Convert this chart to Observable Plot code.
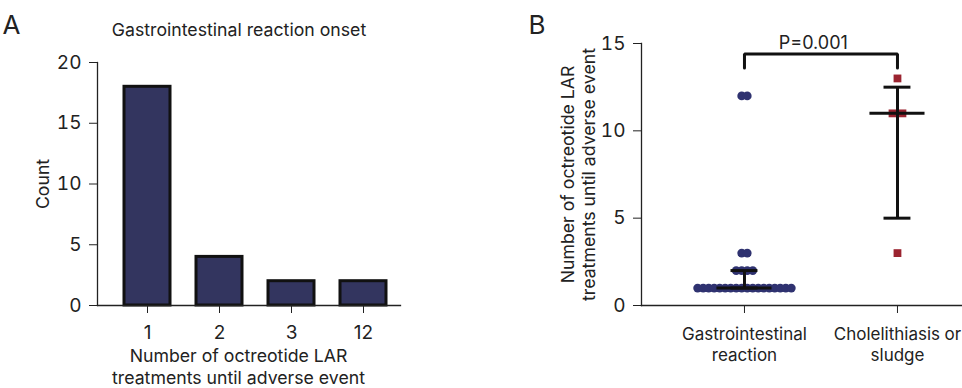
<!DOCTYPE html>
<html><head><meta charset="utf-8">
<script src="https://cdn.jsdelivr.net/npm/d3@7"></script>
<script src="https://cdn.jsdelivr.net/npm/@observablehq/plot@0.6"></script>
<style>
body{margin:0;background:#fff;}
#wrap{position:relative;width:962px;height:388px;overflow:hidden;background:#fff;}
#a{position:absolute;left:0;top:0;}
#b{position:absolute;left:520px;top:0;}
</style></head><body><div id="wrap"><div id="a"></div><div id="b"></div></div>
<script>
// ---- Panel A data ----
const onsetCategories = ["1", "2", "3", "12"];
const onsetCounts = [18, 4, 2, 2];
const countTicks = [0, 5, 10, 15, 20];
const titleA = "Gastrointestinal reaction onset";
const xLabel = "Number of octreotide LAR\ntreatments until adverse event";

// ---- Panel B data ----
const groups = ["Gastrointestinal\nreaction", "Cholelithiasis or\nsludge"];
const gastroValues = [1,1,1,1,1,1,1,1,1,1,1,1,1,1,1,1,1,1, 2,2,2,2, 3,3, 12,12];
const choleValues = [13, 11, 11, 3];
const medians = [1, 11];
const q1s = [1, 5];
const q3s = [2, 12.5];
const bTicks = [0, 5, 10, 15];
const pLabel = "P=0.001";
const bracketTop = 14.4;
const bracketLegEnd = 13.6;

const font = "Inter, 'Liberation Sans', Arial, sans-serif";
const ink = "#222";
const labelSize = 17.7;
const tickSize = 19;

// ---- Panel A ----
const aData = onsetCategories.map((c, i) => ({cat: c, count: onsetCounts[i]}));
const plotA = Plot.plot({
  width: 420, height: 388,
  marginLeft: 97, marginRight: 20, marginTop: 62, marginBottom: 83,
  style: {fontFamily: font, fontSize: "17px", color: ink, background: "white"},
  x: {type: "band", domain: onsetCategories, paddingInner: 0.36, paddingOuter: 0.18, insetLeft: 13},
  y: {domain: [0, 20]},
  marks: [
    Plot.barY(aData, {x: "cat", y: "count", fill: "#33355f", stroke: "#111", strokeWidth: 3}),
    Plot.frame({anchor: "left", stroke: ink, strokeWidth: 1.3}),
    Plot.frame({anchor: "bottom", stroke: ink, strokeWidth: 1.3}),
    Plot.axisY({ticks: countTicks, tickSize: 8, tickPadding: 8, fontSize: tickSize, label: null}),
    Plot.axisX({tickSize: 8, tickPadding: 12, fontSize: tickSize, label: null}),
    Plot.text([titleA], {frameAnchor: "top", textAnchor: "middle", lineAnchor: "bottom", dx: -10, dy: -27, fontSize: labelSize}),
    Plot.text([xLabel], {frameAnchor: "bottom", textAnchor: "middle", lineAnchor: "top", dx: -10.5, dy: 41, lineHeight: 1.25, fontSize: labelSize}),
    Plot.text(["Count"], {frameAnchor: "left", textAnchor: "middle", lineAnchor: "middle", rotate: -90, dx: -54, fontSize: labelSize}),
    Plot.text(["A"], {frameAnchor: "top-left", textAnchor: "start", lineAnchor: "bottom", dx: -95, dy: -29, fontSize: 26})
  ]
});
document.getElementById("a").appendChild(plotA);

// ---- Panel B ----
function spread(values, g, spacing) {
  const counts = d3.rollup(values, v => v.length, d => d);
  const seen = new Map();
  return values.map(v => {
    const k = seen.get(v) || 0; seen.set(v, k + 1);
    const n = counts.get(v);
    return {g, value: v, x: g + (k - (n - 1) / 2) * spacing};
  });
}
const gastroPts = spread(gastroValues, 0, 0.036);
const cholePts = spread(choleValues, 1, 0.065);
const summary = medians.map((m, i) => ({g: i, median: m, q1: q1s[i], q3: q3s[i]}));
const caps = summary.flatMap(d => [{g: d.g, y: d.q1}, {g: d.g, y: d.q3}]);
const bracketPts = [
  {x: 0, y: bracketLegEnd}, {x: 0, y: bracketTop}, {x: 1, y: bracketTop}, {x: 1, y: bracketLegEnd}
];

const plotB = Plot.plot({
  width: 442, height: 388,
  marginLeft: 121, marginRight: 0, marginTop: 43, marginBottom: 83,
  style: {fontFamily: font, fontSize: "17px", color: ink, background: "white"},
  x: {domain: [-0.673, 1.425]},
  y: {domain: [0, 15]},
  marks: [
    Plot.frame({anchor: "left", stroke: ink, strokeWidth: 1.3}),
    Plot.frame({anchor: "bottom", stroke: ink, strokeWidth: 1.3}),
    Plot.axisY({ticks: bTicks, tickSize: 8, tickPadding: 8, fontSize: tickSize, label: null}),
    Plot.axisX({ticks: [0, 1], tickFormat: i => groups[i], tickSize: 8, tickPadding: 12, lineHeight: 1.22, fontSize: 17, label: null}),
    Plot.dot(gastroPts, {x: "x", y: "value", r: 4.4, fill: "#2f3270"}),
    Plot.dot(cholePts, {x: "x", y: "value", r: 4.4, symbol: "square", fill: "#9b2430"}),
    Plot.ruleX(summary, {x: "g", y1: "q1", y2: "q3", stroke: "#111", strokeWidth: 3}),
    Plot.ruleY(summary, {y: "median", x1: d => d.g - 0.18, x2: d => d.g + 0.18, stroke: "#111", strokeWidth: 3}),
    Plot.ruleY(caps, {y: "y", x1: d => d.g - 0.088, x2: d => d.g + 0.088, stroke: "#111", strokeWidth: 3}),
    Plot.line(bracketPts, {x: "x", y: "y", stroke: "#111", strokeWidth: 3, strokeLinejoin: "miter"}),
    Plot.text([pLabel], {x: () => 0.45, y: () => 14.7, textAnchor: "middle", lineAnchor: "bottom", fontSize: 18}),
    Plot.text(["Number of octreotide LAR\ntreatments until adverse event"], {frameAnchor: "left", textAnchor: "middle", lineAnchor: "middle", rotate: -90, dx: -63.5, lineHeight: 1.2, fontSize: labelSize}),
    Plot.text(["B"], {frameAnchor: "top-left", textAnchor: "start", lineAnchor: "bottom", dx: -113, dy: -10, fontSize: 26})
  ]
});
document.getElementById("b").appendChild(plotB);
</script>
</body></html>
